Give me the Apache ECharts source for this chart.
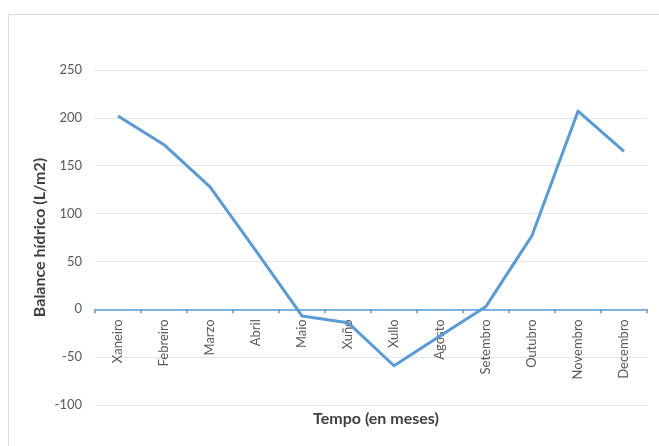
<!DOCTYPE html>
<html>
<head>
<meta charset="utf-8">
<script src="https://cdn.jsdelivr.net/npm/echarts@6/dist/echarts.min.js"></script>
<style>
html,body{margin:0;padding:0;background:#fff;}
#chart{width:659px;height:446px;}
</style>
</head>
<body>
<div id="chart"></div>
<script>
const months = ["Xaneiro","Febreiro","Marzo","Abril","Maio","Xuño","Xullo","Agosto","Setembro","Outubro","Novembro","Decembro"];
const balance = [202, 172, 128, 61, -7, -14, -59, -28, 3, 77, 207, 165];
const yTicks = { min: -100, max: 250, interval: 50 };
const yName = "Balance hídrico (L/m2)";
const xName = "Tempo (en meses)";

const FONT = "Lato";
const gridTop = 70, gridBottom = 41, H = 446;
const plotH = H - gridTop - gridBottom;
// distance from the bottom of the plot up to the zero line, derived from the axis range
const zeroOffset = plotH * (0 - yTicks.min) / (yTicks.max - yTicks.min);

const chart = echarts.init(document.getElementById('chart'), null, {renderer: 'canvas'});
chart.setOption({
  animation: false,
  backgroundColor: '#ffffff',
  textStyle: { fontFamily: FONT },
  title: {
    text: xName,
    left: 371, top: 406,
    textAlign: 'center',
    textStyle: { fontFamily: FONT, fontSize: 16, fontWeight: 'bold', color: '#404040' }
  },
  graphic: [
    { type: 'line', shape: { x1: 8.5, y1: 14.5, x2: 8.5, y2: 446 }, style: { stroke: '#d9dee6', lineWidth: 1 }, silent: true },
    { type: 'line', shape: { x1: 8.5, y1: 14.5, x2: 659, y2: 14.5 }, style: { stroke: '#d9dee6', lineWidth: 1 }, silent: true }
  ],
  grid: { left: 95, right: 12, top: gridTop, bottom: gridBottom, containLabel: false, outerBoundsMode: 'none' },
  xAxis: {
    type: 'category',
    data: months,
    boundaryGap: true,
    position: 'bottom',
    offset: -zeroOffset,
    z: 1,
    axisLine: { onZero: false, lineStyle: { color: '#5b9bd5', width: 1.5 } },
    axisTick: { show: true, length: 4, inside: false, lineStyle: { color: '#5b9bd5', width: 1.5 } },
    axisLabel: { rotate: 90, margin: 10, fontSize: 13, color: '#595959', fontFamily: FONT, interval: 0 },
    splitLine: { show: false }
  },
  yAxis: {
    type: 'value',
    min: yTicks.min, max: yTicks.max, interval: yTicks.interval,
    name: yName,
    nameLocation: 'middle',
    nameGap: 47,
    nameMoveOverlap: false,
    nameTextStyle: { fontFamily: FONT, fontSize: 16, fontWeight: 'bold', color: '#404040' },
    axisLine: { show: false },
    axisTick: { show: false },
    axisLabel: { margin: 13, fontSize: 13, color: '#595959', fontFamily: FONT },
    splitLine: { show: true, lineStyle: { color: '#e3e6ec', width: 1 } }
  },
  series: [{
    type: 'line',
    data: balance,
    z: 5,
    showSymbol: false,
    symbol: 'none',
    lineStyle: { color: '#5b9bd5', width: 3, join: 'round' },
    itemStyle: { color: '#5b9bd5' }
  }]
});
</script>
</body>
</html>
